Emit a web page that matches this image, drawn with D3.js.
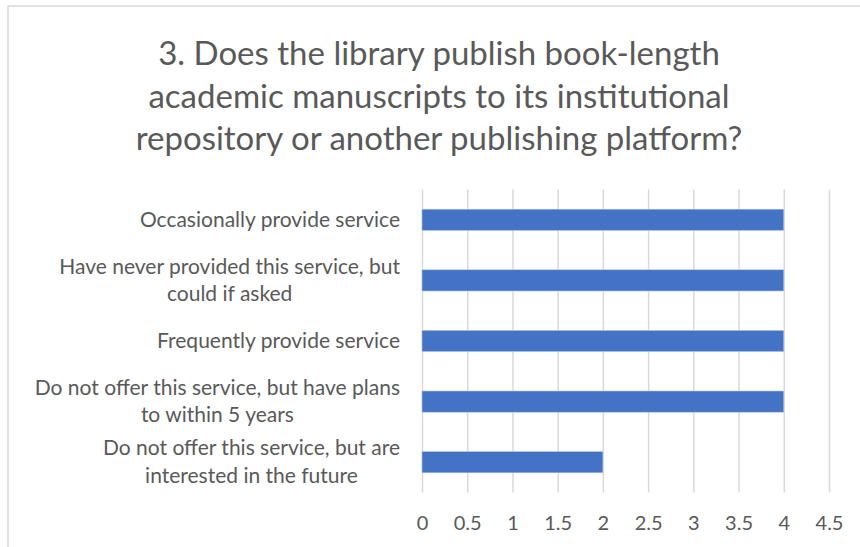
<!DOCTYPE html>
<html><head><meta charset="utf-8">
<script src="https://cdn.jsdelivr.net/npm/d3@7"></script>
<style>body{margin:0;background:#fff}svg{display:block}</style>
</head><body>
<script>
const titleLines = ["3. Does the library publish book-length","academic manuscripts to its institutional","repository or another publishing platform?"];
const categories = [
  ["Occasionally provide service"],
  ["Have never provided this service, but","could if asked"],
  ["Frequently provide service"],
  ["Do not offer this service, but have plans","to within 5 years"],
  ["Do not offer this service, but are","interested in the future"]
];
const values = [4, 4, 4, 4, 2];
const tickValues = [0,0.5,1,1.5,2,2.5,3,3.5,4,4.5];

const W = 860, H = 547;
const FONT = "Lato, 'Open Sans', sans-serif";
const svg = d3.select("body").append("svg").attr("width", W).attr("height", H);
svg.append("rect").attr("x",8).attr("y",6).attr("width",900).attr("height",600)
  .attr("fill","#fff").attr("stroke","#d9d9d9").attr("stroke-width",1.5);

const m = {left:422, right:829, top:189.5, bottom:492.5};
const x = d3.scaleLinear().domain([0,4.5]).range([m.left, m.right]);
const y = d3.scaleBand().domain(d3.range(categories.length)).range([m.top, m.bottom]).paddingInner(0.65).paddingOuter(0.325);

// title
const t = svg.append("text").attr("text-anchor","middle").attr("fill","#595959")
  .style("font-family",FONT).style("font-size","33px");
titleLines.forEach((l,i)=>t.append("tspan").attr("x",439).attr("y",65+i*42.5).text(l));

// gridlines
const grid = svg.append("g").attr("transform",`translate(0,${m.bottom})`)
  .call(d3.axisBottom(x).tickValues(tickValues).tickSize(-(m.bottom-m.top)).tickFormat(""));
grid.select(".domain").remove();
grid.selectAll("line").attr("stroke","#d9d9d9").attr("stroke-width",1.5);

// bars
svg.append("g").selectAll("rect").data(values).join("rect")
  .attr("x", x(0)).attr("y",(d,i)=>y(i)).attr("width",d=>x(d)-x(0)).attr("height",y.bandwidth())
  .attr("fill","#4472c4").attr("stroke","#b4c7e7").attr("stroke-width",0.6);

// x tick labels
const ax = svg.append("g").attr("transform",`translate(0,${m.bottom})`)
  .call(d3.axisBottom(x).tickValues(tickValues).tickSize(0).tickPadding(0).tickFormat(d3.format("")));
ax.select(".domain").remove();
ax.selectAll("text").attr("fill","#595959").attr("dy",null).attr("y",37)
  .style("font-family",FONT).style("font-size","20px");

// category labels
const lab = svg.append("g");
categories.forEach((lines,i)=>{
  const cy = y(i)+y.bandwidth()/2;
  const g = lab.append("g");
  const n = lines.length;
  const texts = lines.map((l,j)=>g.append("text").attr("fill","#595959").attr("text-anchor","middle")
    .style("font-family",FONT).style("font-size","21px")
    .attr("y", cy + (j-(n-1)/2)*27.7 + 7).text(l));
  const widths = texts.map(tx=>tx.node().getComputedTextLength());
  const mw = d3.max(widths);
  texts.forEach(tx=>tx.attr("x", 400 - mw/2));
});
</script>
</body></html>
